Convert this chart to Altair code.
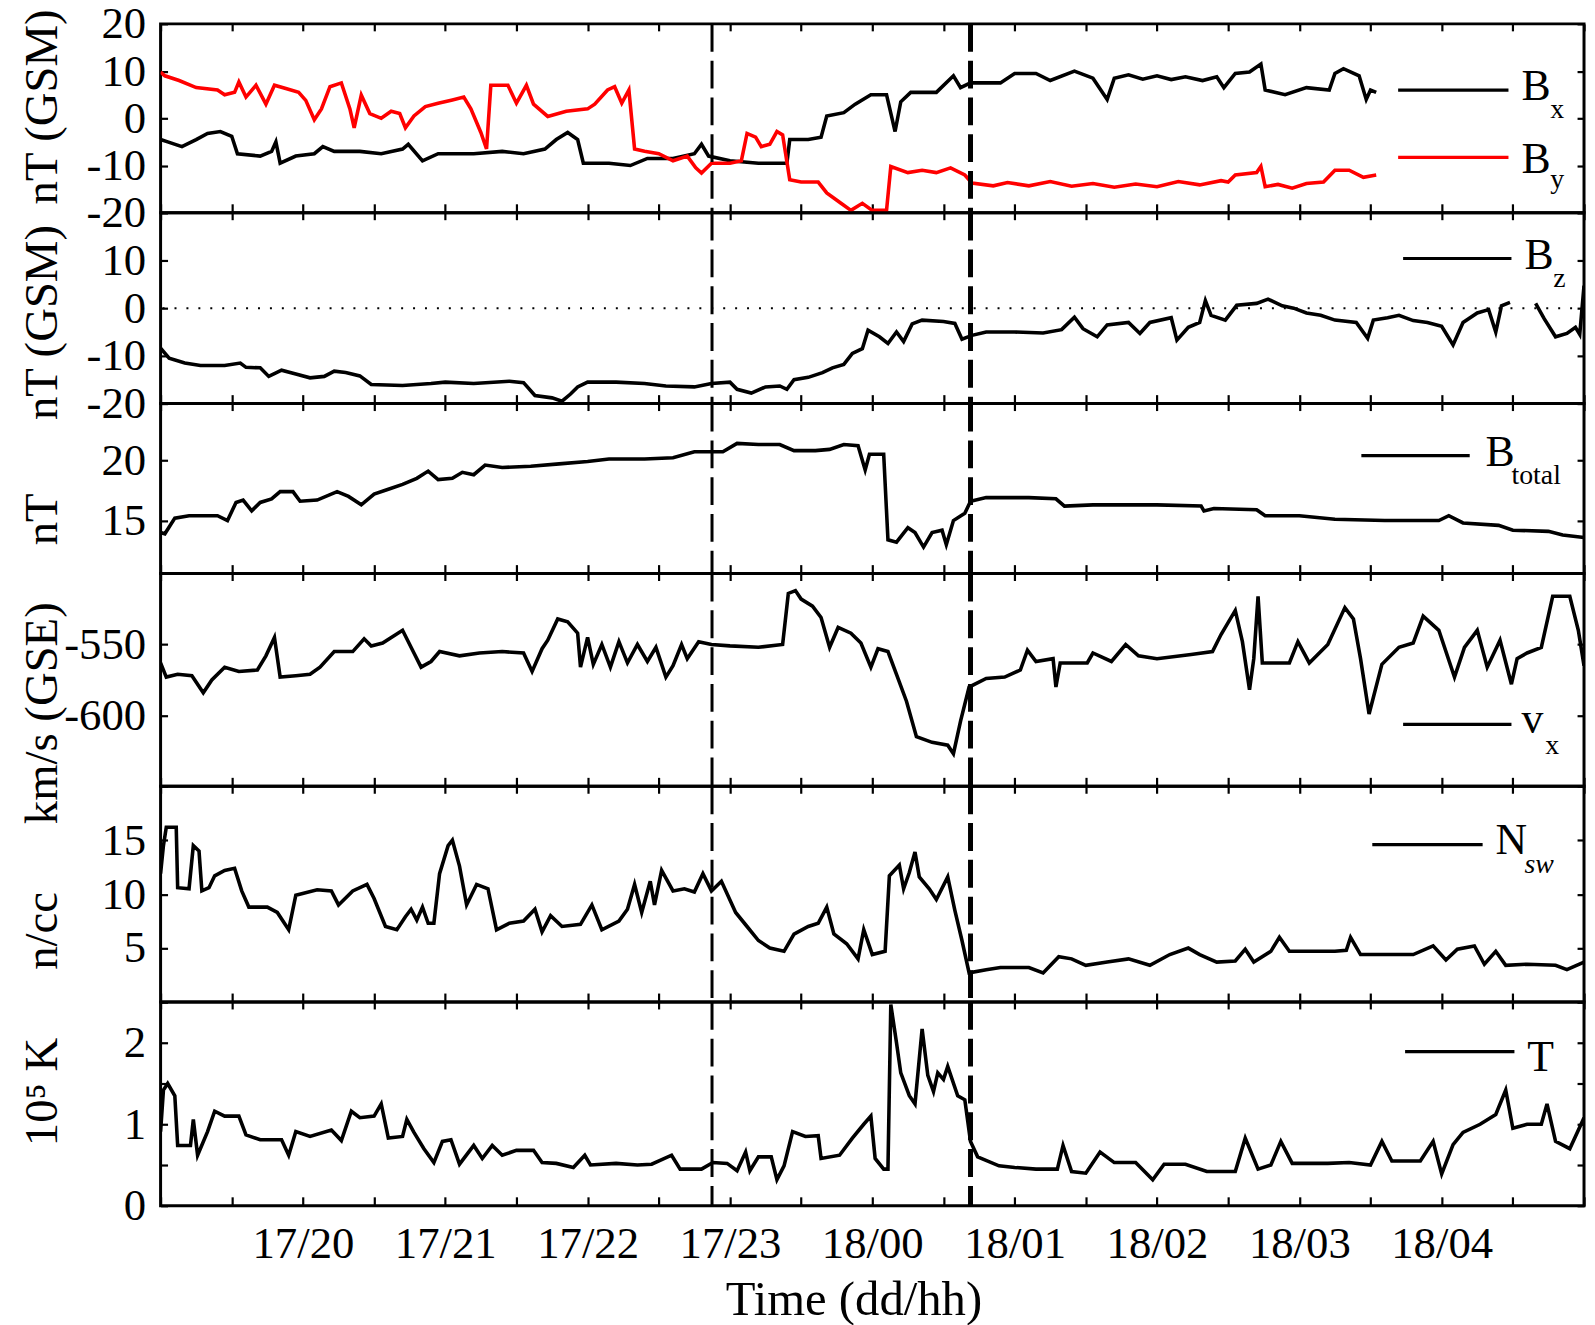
import altair as alt
import pandas as pd

FONT = "Liberation Serif"

# ---------------- data (time = hours after 17/19:00) ----------------
BX = [(0.00,-4.5),(0.05,-5.0),(0.15,-6.0),(0.25,-4.5),(0.33,-3.2),(0.42,-2.8),(0.50,-3.8),(0.54,-7.5),
      (0.70,-8.0),(0.78,-7.0),(0.81,-5.0),(0.84,-9.5),(0.95,-8.0),(1.08,-7.5),(1.14,-6.0),(1.22,-7.0),
      (1.40,-7.0),(1.55,-7.5),(1.70,-6.5),(1.74,-5.5),(1.84,-9.0),(1.95,-7.5),(2.20,-7.5),(2.40,-7.0),
      (2.55,-7.5),(2.70,-6.5),(2.78,-4.5),(2.86,-3.0),(2.93,-4.5),(2.97,-9.5),(3.15,-9.5),(3.30,-10.0),
      (3.42,-8.5),(3.60,-8.5),(3.75,-7.5),(3.80,-5.5),(3.85,-8.0),(4.00,-9.0),(4.20,-9.5),(4.40,-9.5),
      (4.42,-4.5),(4.55,-4.5),(4.64,-4.0),(4.68,0.5),(4.80,1.2),(4.88,3.0),(4.99,5.0),(5.10,5.0),
      (5.16,-2.8),(5.20,3.5),(5.27,5.5),(5.45,5.5),(5.57,9.0),(5.62,6.5),(5.69,7.5),(5.90,7.5),
      (6.00,9.5),(6.15,9.5),(6.25,8.0),(6.42,10.0),(6.55,8.5),(6.65,4.0),(6.70,8.5),(6.80,9.2),
      (6.90,8.3),(7.00,9.0),(7.10,8.2),(7.20,8.8),(7.32,8.0),(7.42,8.8),(7.47,6.5),(7.55,9.5),
      (7.65,9.8),(7.73,11.5),(7.76,6.0),(7.90,5.0),(8.05,6.5),(8.21,6.0),(8.25,9.5),(8.31,10.5),
      (8.42,9.0),(8.47,4.0),(8.50,6.0),(8.54,5.5)]
BY = [(0.00,9.8),(0.03,9.0),(0.13,8.0),(0.25,6.5),(0.40,6.0),(0.45,5.0),(0.52,5.5),(0.55,7.7),(0.60,4.5),
      (0.67,7.0),(0.74,3.0),(0.80,7.0),(0.88,6.3),(0.97,5.5),(1.02,3.8),(1.08,-0.3),(1.13,2.0),(1.19,6.7),
      (1.27,7.5),(1.33,2.0),(1.36,-2.0),(1.41,4.9),(1.47,1.0),(1.55,0.0),(1.62,1.5),(1.68,1.0),(1.72,-2.0),
      (1.78,0.5),(1.86,2.5),(1.95,3.2),(2.05,3.9),(2.13,4.5),(2.18,2.0),(2.25,-3.0),(2.29,-6.5),(2.32,7.0),
      (2.44,7.0),(2.50,3.2),(2.57,7.0),(2.62,3.0),(2.72,0.4),(2.85,1.5),(3.00,2.0),(3.05,3.0),(3.14,6.0),
      (3.19,6.7),(3.24,3.2),(3.29,6.0),(3.33,-6.5),(3.40,-7.0),(3.50,-7.5),(3.60,-9.0),(3.70,-8.0),
      (3.76,-10.5),(3.80,-11.6),(3.87,-9.5),(4.00,-9.5),(4.08,-9.0),(4.12,-3.2),(4.18,-4.0),(4.22,-6.0),
      (4.28,-5.5),(4.33,-2.8),(4.37,-3.5),(4.42,-13.0),(4.50,-13.5),(4.62,-13.5),(4.68,-15.8),(4.78,-18.0),
      (4.85,-19.5),(4.93,-18.0),(5.00,-19.5),(5.10,-19.5),(5.13,-10.2),(5.25,-11.5),(5.35,-11.0),
      (5.45,-11.5),(5.55,-10.5),(5.65,-12.0),(5.70,-13.7),(5.85,-14.3),(5.95,-13.6),(6.10,-14.3),
      (6.25,-13.4),(6.40,-14.4),(6.55,-13.8),(6.70,-14.6),(6.85,-13.9),(7.00,-14.5),(7.15,-13.4),
      (7.30,-14.1),(7.45,-13.2),(7.50,-13.5),(7.55,-12.0),(7.70,-11.5),(7.73,-10.2),(7.76,-14.5),
      (7.85,-14.0),(7.95,-14.8),(8.05,-13.8),(8.17,-13.5),(8.25,-11.0),(8.35,-11.0),(8.45,-12.5),
      (8.54,-12.0)]
BZ_A = [(0.00,-8.4),(0.06,-10.5),(0.17,-11.5),(0.28,-12.0),(0.45,-12.0),(0.56,-11.5),(0.60,-12.4),
        (0.70,-12.5),(0.76,-14.3),(0.85,-13.0),(0.95,-13.8),(1.05,-14.6),(1.15,-14.3),(1.22,-13.2),
        (1.30,-13.5),(1.40,-14.2),(1.48,-16.0),(1.70,-16.2),(1.90,-15.8),(2.00,-15.5),(2.20,-15.8),
        (2.45,-15.3),(2.55,-15.6),(2.63,-18.3),(2.75,-18.8),(2.82,-19.5),(2.88,-18.0),(2.93,-16.5),
        (3.00,-15.5),(3.20,-15.5),(3.40,-15.8),(3.55,-16.3),(3.75,-16.5),(3.87,-15.8),(4.00,-15.5),
        (4.05,-17.0),(4.15,-17.8),(4.25,-16.5),(4.35,-16.3),(4.40,-17.0),(4.45,-15.0),(4.55,-14.5),
        (4.65,-13.5),(4.72,-12.5),(4.80,-11.8),(4.86,-9.5),(4.93,-8.5),(4.97,-4.6),(5.05,-6.0),
        (5.11,-7.4),(5.17,-5.0),(5.22,-7.0),(5.28,-3.3),(5.35,-2.5),(5.50,-2.8),(5.58,-3.2),(5.63,-6.5),
        (5.70,-5.7),(5.80,-5.0),(6.00,-5.0),(6.20,-5.2),(6.33,-4.5),(6.42,-1.9),(6.48,-4.3),(6.58,-6.0),
        (6.65,-3.5),(6.80,-3.0),(6.88,-5.3),(6.95,-3.0),(7.10,-2.0),(7.14,-6.7),(7.22,-4.0),(7.30,-3.0),
        (7.34,1.6),(7.38,-1.5),(7.48,-2.5),(7.56,0.6),(7.70,1.0),(7.78,1.9),(7.88,0.5),(7.96,0.0),
        (8.05,-1.0),(8.15,-1.5),(8.25,-2.5),(8.40,-3.0),(8.48,-6.3),(8.52,-2.5),(8.62,-2.0),(8.70,-1.5),
        (8.80,-2.6),(8.90,-3.0),(9.00,-3.8),(9.08,-7.7),(9.15,-3.0),(9.25,-1.0),(9.33,-0.3),(9.38,-5.0),
        (9.42,0.5),(9.48,1.2)]
BZ_B = [(9.66,1.0),(9.72,-2.2),(9.80,-6.0),(9.88,-5.3),(9.94,-4.0),(9.97,-5.5),(10.0,4.7)]
BTOT = [(0.00,14.0),(0.03,13.9),(0.10,15.2),(0.20,15.4),(0.40,15.4),(0.47,15.0),(0.53,16.5),(0.58,16.7),
        (0.64,15.8),(0.70,16.5),(0.78,16.8),(0.84,17.4),(0.93,17.4),(0.98,16.6),(1.10,16.7),(1.24,17.4),
        (1.32,17.0),(1.41,16.3),(1.50,17.2),(1.60,17.6),(1.70,18.0),(1.80,18.5),(1.88,19.1),(1.95,18.4),
        (2.05,18.5),(2.12,19.0),(2.20,18.8),(2.28,19.6),(2.40,19.4),(2.60,19.5),(2.80,19.7),(3.00,19.9),
        (3.15,20.1),(3.40,20.1),(3.60,20.2),(3.75,20.7),(3.95,20.7),(4.05,21.4),(4.20,21.3),(4.35,21.3),
        (4.45,20.8),(4.60,20.8),(4.70,20.9),(4.80,21.3),(4.90,21.2),(4.95,19.2),(4.98,20.5),(5.08,20.5),
        (5.11,13.4),(5.17,13.2),(5.25,14.4),(5.30,14.0),(5.36,12.8),(5.42,14.0),(5.49,14.2),(5.52,13.0),
        (5.57,15.0),(5.65,15.6),(5.69,16.6),(5.80,16.9),(6.10,16.9),(6.29,16.8),(6.35,16.2),(6.55,16.3),
        (7.00,16.3),(7.31,16.2),(7.33,15.8),(7.40,16.0),(7.70,15.9),(7.76,15.4),(8.00,15.4),(8.25,15.1),
        (8.60,15.0),(8.98,15.0),(9.05,15.4),(9.15,14.8),(9.40,14.6),(9.50,14.2),(9.75,14.1),(9.85,13.8),
        (10.0,13.6)]
VX = [(0.00,-563),(0.04,-573),(0.12,-571),(0.22,-572),(0.30,-584),(0.36,-575),(0.45,-566),(0.55,-569),
      (0.68,-568),(0.74,-558),(0.80,-545),(0.84,-573),(0.95,-572),(1.05,-571),(1.12,-566),(1.22,-555),
      (1.35,-555),(1.43,-546),(1.48,-551),(1.56,-549),(1.70,-540),(1.78,-556),(1.83,-566),(1.90,-562),
      (1.96,-555),(2.10,-558),(2.24,-556),(2.40,-555),(2.55,-556),(2.61,-569),(2.68,-553),(2.72,-547),
      (2.79,-532),(2.86,-534),(2.93,-542),(2.95,-566),(3.00,-545),(3.04,-564),(3.10,-550),(3.16,-566),
      (3.22,-548),(3.28,-563),(3.35,-550),(3.42,-562),(3.48,-552),(3.55,-573),(3.60,-565),(3.66,-550),
      (3.70,-560),(3.78,-548),(3.87,-550),(4.00,-551),(4.20,-552),(4.37,-550),(4.41,-514),(4.46,-512),
      (4.50,-518),(4.58,-523),(4.64,-531),(4.70,-552),(4.76,-538),(4.85,-542),(4.92,-549),(4.99,-566),
      (5.04,-553),(5.11,-555),(5.17,-571),(5.24,-590),(5.31,-615),(5.42,-619),(5.53,-621),(5.57,-627),
      (5.62,-604),(5.68,-580),(5.80,-574),(5.93,-573),(6.04,-568),(6.09,-554),(6.15,-562),(6.27,-560),
      (6.29,-580),(6.32,-563),(6.51,-563),(6.55,-556),(6.68,-562),(6.78,-550),(6.87,-558),(7.00,-560),
      (7.24,-557),(7.39,-555),(7.45,-543),(7.55,-526),(7.60,-548),(7.65,-582),(7.68,-560),(7.71,-516),
      (7.74,-563),(7.93,-563),(7.99,-548),(8.07,-563),(8.20,-550),(8.32,-524),(8.38,-532),(8.43,-560),
      (8.49,-599),(8.58,-564),(8.70,-552),(8.80,-549),(8.87,-530),(8.98,-540),(9.09,-573),(9.16,-552),
      (9.25,-540),(9.32,-566),(9.41,-547),(9.49,-578),(9.53,-560),(9.60,-556),(9.70,-552),(9.78,-516),
      (9.90,-516),(9.96,-540),(10.0,-565)]
NSW = [(0.00,11.9),(0.02,14.5),(0.04,16.2),(0.11,16.2),(0.12,10.6),(0.20,10.5),(0.23,14.5),(0.27,14.0),
       (0.29,10.3),(0.34,10.6),(0.38,11.7),(0.45,12.2),(0.52,12.4),(0.57,10.3),(0.62,8.8),(0.75,8.8),
       (0.82,8.3),(0.90,6.7),(0.95,9.9),(1.10,10.4),(1.20,10.3),(1.25,9.0),(1.35,10.3),(1.45,10.9),
       (1.50,9.6),(1.58,7.0),(1.66,6.7),(1.72,7.9),(1.76,8.6),(1.80,7.6),(1.84,8.8),(1.88,7.3),(1.92,7.3),
       (1.96,11.9),(2.02,14.5),(2.05,15.0),(2.10,12.6),(2.15,9.0),(2.22,10.9),(2.30,10.5),(2.36,6.7),
       (2.45,7.3),(2.55,7.5),(2.63,8.6),(2.68,6.5),(2.74,8.0),(2.82,7.0),(2.95,7.2),(3.03,9.0),(3.10,6.7),
       (3.22,7.5),(3.28,8.6),(3.33,10.9),(3.38,8.3),(3.44,11.2),(3.47,9.0),(3.52,12.2),(3.60,10.3),
       (3.68,10.5),(3.75,10.2),(3.81,11.9),(3.87,10.3),(3.94,11.2),(4.04,8.3),(4.12,7.0),(4.20,5.7),
       (4.28,5.0),(4.38,4.7),(4.45,6.3),(4.55,7.0),(4.62,7.3),(4.68,8.8),(4.73,6.3),(4.82,5.4),(4.90,4.0),
       (4.94,6.7),(5.00,4.4),(5.09,4.7),(5.12,11.7),(5.19,12.7),(5.22,10.5),(5.26,12.0),(5.30,13.9),
       (5.33,11.6),(5.40,10.5),(5.45,9.5),(5.53,11.6),(5.58,8.5),(5.63,5.7),(5.68,2.7),(5.80,3.0),
       (5.90,3.2),(6.10,3.2),(6.20,2.7),(6.31,4.2),(6.40,4.0),(6.50,3.4),(6.65,3.7),(6.80,4.0),(6.95,3.4),
       (7.09,4.4),(7.22,5.0),(7.30,4.4),(7.42,3.7),(7.55,3.8),(7.62,4.9),(7.68,3.7),(7.80,4.7),(7.86,6.0),
       (7.93,4.7),(8.10,4.7),(8.25,4.7),(8.33,4.8),(8.36,6.0),(8.43,4.4),(8.60,4.4),(8.80,4.4),(8.94,5.2),
       (9.03,3.9),(9.11,4.9),(9.23,5.2),(9.30,3.5),(9.38,4.7),(9.45,3.4),(9.60,3.5),(9.80,3.4),(9.88,3.0),
       (10.0,3.7)]
TEMP = [(0.00,0.91),(0.02,1.42),(0.05,1.50),(0.10,1.35),(0.12,0.74),(0.21,0.74),(0.23,1.06),(0.26,0.62),
        (0.33,0.91),(0.38,1.16),(0.45,1.10),(0.55,1.10),(0.60,0.87),(0.70,0.81),(0.85,0.81),(0.90,0.62),
        (0.95,0.91),(1.05,0.85),(1.20,0.93),(1.27,0.80),(1.34,1.16),(1.40,1.08),(1.50,1.10),(1.55,1.25),
        (1.60,0.83),(1.70,0.85),(1.73,1.06),(1.78,0.90),(1.85,0.70),(1.92,0.53),(1.98,0.79),(2.04,0.81),
        (2.10,0.51),(2.20,0.74),(2.26,0.58),(2.33,0.74),(2.40,0.62),(2.50,0.68),(2.62,0.68),(2.68,0.53),
        (2.78,0.52),(2.90,0.47),(2.98,0.62),(3.02,0.50),(3.20,0.52),(3.35,0.50),(3.45,0.51),(3.59,0.62),
        (3.65,0.45),(3.80,0.45),(3.88,0.53),(3.98,0.52),(4.05,0.43),(4.11,0.66),(4.14,0.43),(4.20,0.60),
        (4.29,0.60),(4.33,0.32),(4.38,0.49),(4.44,0.91),(4.53,0.85),(4.62,0.86),(4.64,0.58),(4.77,0.62),
        (4.86,0.83),(4.94,1.00),(4.99,1.10),(5.02,0.58),(5.08,0.45),(5.11,0.45),(5.13,2.47),(5.17,2.00),
        (5.20,1.63),(5.26,1.35),(5.30,1.25),(5.35,2.17),(5.39,1.60),(5.43,1.40),(5.46,1.63),(5.50,1.55),
        (5.53,1.71),(5.60,1.35),(5.65,1.30),(5.69,0.79),(5.74,0.60),(5.89,0.49),(6.00,0.47),(6.15,0.45),
        (6.30,0.45),(6.34,0.74),(6.40,0.42),(6.50,0.40),(6.60,0.66),(6.70,0.53),(6.85,0.53),(6.97,0.32),
        (7.05,0.51),(7.20,0.51),(7.35,0.42),(7.55,0.42),(7.62,0.83),(7.71,0.45),(7.80,0.50),(7.87,0.79),
        (7.95,0.52),(8.20,0.52),(8.35,0.53),(8.50,0.50),(8.58,0.79),(8.65,0.55),(8.85,0.55),(8.94,0.79),
        (9.00,0.39),(9.08,0.75),(9.15,0.90),(9.27,1.00),(9.38,1.12),(9.45,1.42),(9.50,0.95),(9.60,1.00),
        (9.70,1.00),(9.74,1.25),(9.80,0.79),(9.90,0.70),(10.0,1.08)]

X_TICKS = [i * 0.5 for i in range(21)]
X_LABEL_HOURS = [1, 2, 3, 4, 5, 6, 7, 8, 9]
X_LABELS = ["17/20", "17/21", "17/22", "17/23", "18/00", "18/01", "18/02", "18/03", "18/04"]
DASH_TIMES = [3.874, 5.69]
Y_TITLES = ["nT (GSM)", "nT (GSM)", "nT", "km/s (GSE)", "n/cc", "10\u2075 K"]
LEGENDS = [[("B", "x"), ("B", "y")], [("B", "z")], [("B", "total")], [("v", "x")], [("N", "sw")], [("T", "")]]

PANEL_W = 1432
LINE_W = 3.6
LABEL_SIZE = 45

X_EXPR = "".join(f"datum.value == {h} ? '{l}' : " for h, l in zip(X_LABEL_HOURS, X_LABELS)) + "''"


def df_of(segments):
    rows = []
    for seg, pts in enumerate(segments):
        for t, v in pts:
            rows.append({"t": t, "v": v, "seg": seg})
    return pd.DataFrame(rows)


def one_text(s, x, y, size, italic=False):
    return alt.Chart(pd.DataFrame({"s": [s]})).mark_text(
        align="left", baseline="alphabetic", font=FONT, fontSize=size,
        fontStyle="italic" if italic else "normal", color="black"
    ).encode(x=alt.value(x), y=alt.value(y), text="s:N")


def one_seg(x1, x2, y, color):
    return alt.Chart(pd.DataFrame({"k": [0]})).mark_rule(color=color, strokeWidth=3.2).encode(
        x=alt.value(x1), x2=alt.value(x2), y=alt.value(y))


def panel(idx, series, h, ydom, yticks, ylabs, title_y, legend_geo, bottom=False, zero=False):
    xs = alt.Scale(domain=[0, 10], nice=False, zero=False)
    ys = alt.Scale(domain=ydom, nice=False, zero=False)
    lab_expr = "indexof(" + str(ylabs) + ", datum.value) >= 0 ? toString(datum.value) : ''"
    xkw = dict(values=X_TICKS, orient="bottom", tickSize=9, offset=-9, domain=False, grid=False,
               tickColor="black", tickWidth=2.2, labelOverlap=False)
    if bottom:
        xkw.update(labels=True, labelExpr=X_EXPR, labelFont=FONT, labelFontSize=LABEL_SIZE,
                   labelColor="black", labelPadding=38, labelBaseline="middle", labelFlush=False,
                   title="Time (dd/hh)", titleFont=FONT, titleFontSize=49, titleFontWeight="normal",
                   titleColor="black", titleX=697, titleY=103, titleBaseline="middle", titleAlign="center")
        xaxis = alt.Axis(**xkw)
    else:
        xkw.update(labels=False)
        xaxis = alt.Axis(title=None, **xkw)
    yaxis = alt.Axis(values=yticks, orient="left", tickSize=7, offset=-7, domain=False, grid=False,
                     tickColor="black", tickWidth=2.2, labelOverlap=False, labelExpr=lab_expr,
                     labelFont=FONT, labelFontSize=LABEL_SIZE, labelColor="black", labelPadding=15,
                     title=Y_TITLES[idx], titleFont=FONT, titleFontSize=47, titleFontWeight="normal",
                     titleColor="black", titleX=-126, titleY=title_y, titleAngle=270,
                     titleBaseline="middle", titleAlign="center")
    layers = []
    first_df = None
    for k, (segments, color) in enumerate(series):
        df = df_of(segments)
        if first_df is None:
            first_df = df
        layers.append(alt.Chart(df).mark_line(strokeWidth=LINE_W, clip=True, color=color).encode(
            x=alt.X("t:Q", scale=xs, axis=xaxis if k == 0 else None),
            y=alt.Y("v:Q", scale=ys, axis=yaxis if k == 0 else None),
            detail="seg:N",
        ))
    mirror = alt.Chart(first_df).mark_line(strokeOpacity=0).encode(
        x=alt.X("t:Q", scale=xs, axis=alt.Axis(values=X_TICKS, orient="top", tickSize=7, offset=-7,
                                                 domain=False, grid=False, labels=False, tickColor="black",
                                                 tickWidth=2.2, title=None)),
        y=alt.Y("v:Q", scale=ys, axis=alt.Axis(values=yticks, orient="right", tickSize=7, offset=-7,
                                                domain=False, grid=False, labels=False, tickColor="black",
                                                tickWidth=2.2, title=None)),
        detail="seg:N",
    )
    layers.append(mirror)
    if zero:
        layers.insert(0, alt.Chart(pd.DataFrame({"v": [0]})).mark_rule(
            color="black", strokeWidth=2, strokeDash=[2, 10]).encode(y=alt.Y("v:Q", scale=ys, axis=None)))
    for t, w in zip(DASH_TIMES, [3, 5]):
        layers.append(alt.Chart(pd.DataFrame({"t": [t]})).mark_rule(
            color="black", strokeWidth=w, strokeDash=[28, 9]).encode(x=alt.X("t:Q", scale=xs, axis=None)))
    for (main_txt, sub_txt), g, (_, col) in zip(LEGENDS[idx], legend_geo, series):
        x1, x2, ly, mx, my, sx, sy = g
        layers.append(one_seg(x1, x2, ly, col))
        layers.append(one_text(main_txt, mx, my, 44))
        if sub_txt:
            layers.append(one_text(sub_txt, sx, sy, 28, italic=(sub_txt == "sw")))
    return alt.layer(*layers).resolve_axis(x="independent", y="independent").properties(
        width=PANEL_W, height=h)


p1 = panel(0, [([BX], "#000000"), ([BY], "#ff0000")], 190,
           [-20, 20], [-20, -10, 0, 10, 20], [-20, -10, 0, 10, 20], 83,
           [(1245, 1356, 66.7, 1369, 77, 1398, 95), (1245, 1356, 134.3, 1369, 150, 1398, 165)])
p2 = panel(1, [([BZ_A, BZ_B], "#000000")], 192,
           [-20, 20], [-20, -10, 0, 10, 20], [-20, -10, 0, 10], 110,
           [(1250, 1359, 46, 1372, 57, 1401, 75)], zero=True)
p3 = panel(2, [([BTOT], "#000000")], 171,
           [10.6, 24.7], [15, 20], [15, 20], 116,
           [(1208, 1317, 52.3, 1333, 63, 1359, 81)])
p4 = panel(3, [([VX], "#000000")], 214,
           [-650, -500], [-600, -550], [-600, -550], 140,
           [(1250, 1359, 151.7, 1369, 160, 1393, 182)])
p5 = panel(4, [([NSW], "#000000")], 217,
           [0, 20], [0, 5, 10, 15, 20], [5, 10, 15], 145,
           [(1219, 1330, 58.6, 1343, 68, 1372, 87)])
p6 = panel(5, [([TEMP], "#000000")], 205,
           [0, 2.5], [0, 0.5, 1, 1.5, 2, 2.5], [0, 1, 2], 90,
           [(1252, 1362, 50, 1375, 69, 0, 0)], bottom=True)

chart = alt.vconcat(p1, p2, p3, p4, p5, p6, spacing=0, bounds="flush").properties(
    padding={"left": 8.5, "top": -12, "right": 0, "bottom": 0}
).configure_view(stroke="black", strokeWidth=3, strokeOpacity=1)

chart.save("out.html", embed_options={"renderer": "svg", "actions": False})
